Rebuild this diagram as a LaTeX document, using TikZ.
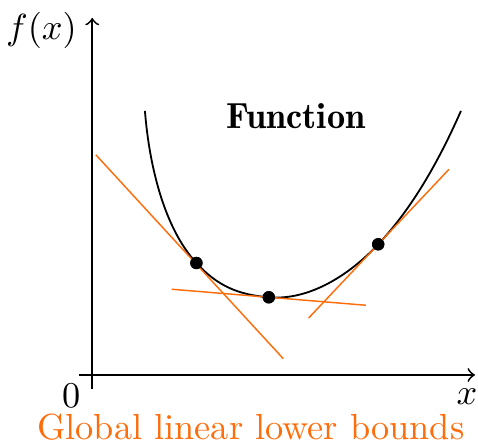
\documentclass[tikz,border=0pt]{standalone}
\usepackage{tikz}
\usetikzlibrary{calc}
\usepackage{xcolor}
\definecolor{lbound}{RGB}{255,108,10}

\begin{document}
\begin{tikzpicture}[>=to, line width=0.5pt]
  \useasboundingbox (-0.893,-0.668) rectangle (3.734,3.630);
  \tikzset{
    dot/.style={circle, fill=black, inner sep=0pt, minimum size=3.4pt},
    tangent/.style={lbound, line width=0.4pt}
  }
  % axes
  \draw[->] (-0.126,0) -- (3.704,0);
  \draw[->] (0,-0.136) -- (0,3.456);
  \node at (-0.492,3.340) {$f(x)$};
  \node at (-0.203,-0.203) {$0$};
  \node at (3.627,-0.208) {$x$};
  % touching points
  \node[dot] (p1) at (1.008,1.084) {};
  \node[dot] (p2) at (1.709,0.752) {};
  \node[dot] (p3) at (2.768,1.265) {};
  \coordinate (top1) at (0.510,2.556);
  \coordinate (top2) at (3.569,2.556);
  % convex function
  \draw (top1) .. controls (0.553,2.008) and (0.703,1.415) .. (p1.center)
               .. controls (1.211,0.863) and (1.410,0.777) .. (p2.center)
               .. controls (2.108,0.719) and (2.494,0.974) .. (p3.center)
               .. controls (3.111,1.629) and (3.367,2.099) .. (top2);
  % lower bounds
  \draw[tangent] ($(p1)+(-0.972,1.046)$) -- ($(p1)+(0.841,-0.926)$);
  \draw[tangent] ($(p2)+(-0.940,0.078)$) -- ($(p2)+(0.940,-0.077)$);
  \draw[tangent] ($(p3)+(-0.673,-0.713)$) -- ($(p3)+(0.685,0.726)$);
  \node[dot] at (p1) {};
  \node[dot] at (p2) {};
  \node[dot] at (p3) {};
  \node[anchor=base, font=\fontseries{b}\selectfont] (fun) at (1.972,2.388) {Function};
  \node[anchor=base, lbound] (lab) at (1.535,-0.629) {Global linear lower bounds};
\end{tikzpicture}
\end{document}
